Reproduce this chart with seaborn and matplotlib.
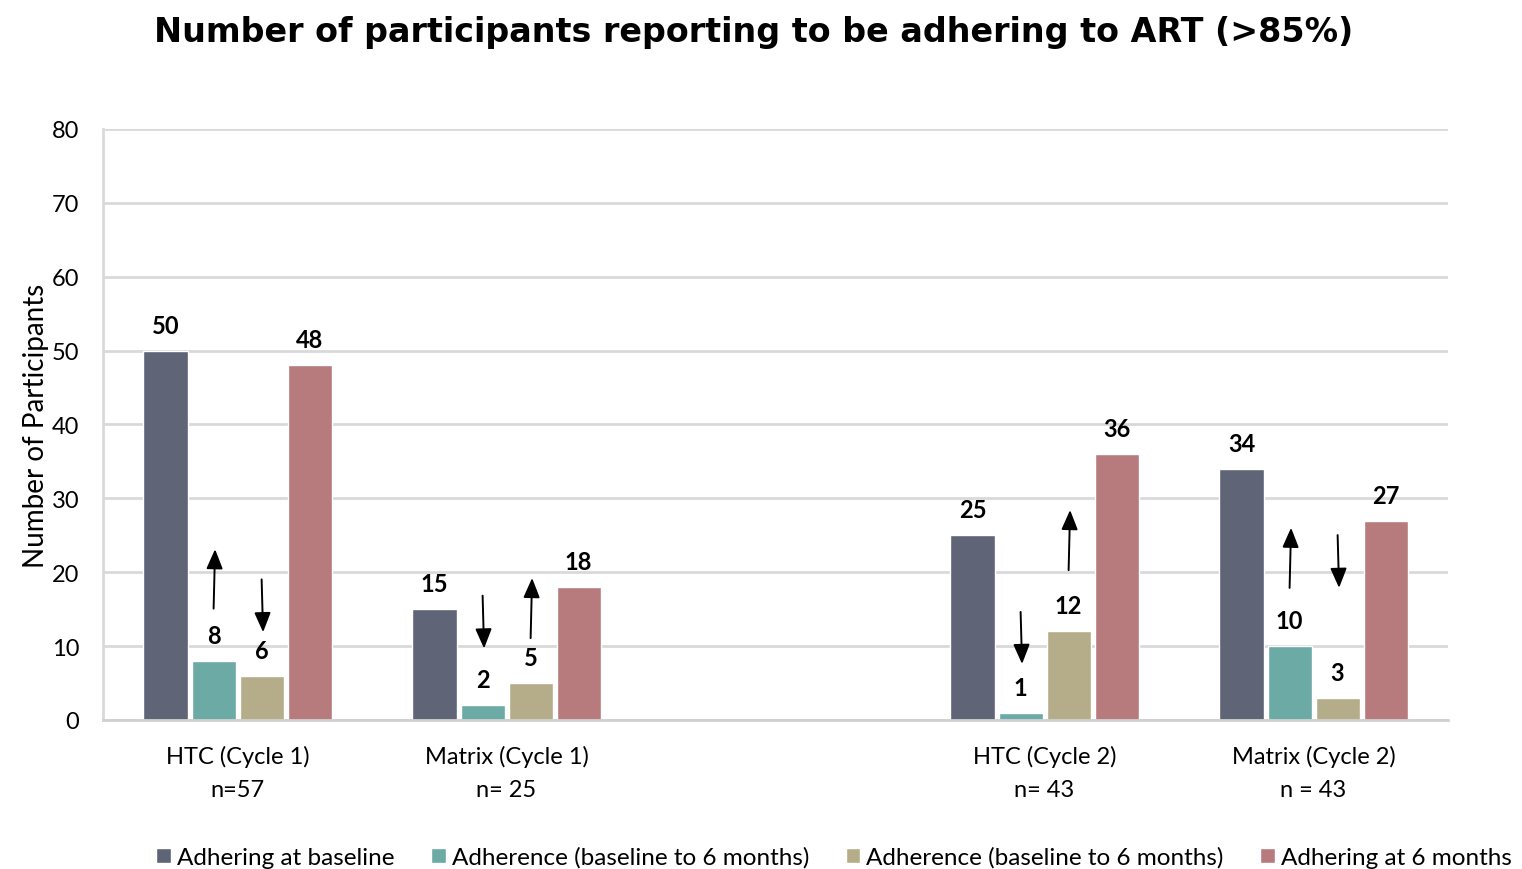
import pandas as pd
import matplotlib.pyplot as plt
import seaborn as sns
from matplotlib.patches import Patch

# categories (an empty slot sits between cycle 1 and cycle 2)
grupos = ["HTC (Cycle 1)\nn=57", "Matrix (Cycle 1)\nn= 25",
          "HTC (Cycle 2)\nn= 43", "Matrix (Cycle 2)\nn = 43"]
orden = grupos[:2] + [" "] + grupos[2:]

series = ["base", "adh_a", "adh_b", "six"]
etiquetas = ["Adhering at baseline", "Adherence (baseline to 6 months)",
             "Adherence (baseline to 6 months)", "Adhering at 6 months"]
colores = ["#5f6476", "#6baaa5", "#b5ad8a", "#b77b7e"]

baseline = [50, 15, 25, 34]
adh_a = [8, 2, 1, 10]
adh_b = [6, 5, 12, 3]
six_months = [48, 18, 36, 27]

# arrows drawn over the two middle bars of every group: (series, y start, y end)
flechas = [
    [("adh_a", 14.7, 23.5), ("adh_b", 19.4, 11.5)],
    [("adh_a", 17.2, 9.3), ("adh_b", 10.7, 19.6)],
    [("adh_a", 15.0, 7.2), ("adh_b", 19.9, 28.8)],
    [("adh_a", 17.5, 26.4), ("adh_b", 25.4, 17.5)],
]

filas = []
for serie, vals in zip(series, [baseline, adh_a, adh_b, six_months]):
    for g, v in zip(grupos, vals):
        filas.append({"grupo": g, "serie": serie, "valor": v})
df = pd.DataFrame(filas)

sns.set_style("white")
plt.rcParams["font.family"] = ["Lato", "DejaVu Sans"]
plt.rcParams["text.color"] = "black"
plt.rcParams["xtick.color"] = "black"
plt.rcParams["ytick.color"] = "black"
plt.rcParams["axes.labelcolor"] = "black"

fig = plt.figure(figsize=(15.22, 8.70), dpi=100)
ax = fig.add_axes([0.0677, 0.1713, 0.8837, 0.6793])

sns.barplot(data=df, x="grupo", y="valor", hue="serie", order=orden,
            hue_order=series, palette=colores, width=0.714, gap=0.083,
            saturation=1, ax=ax, legend=False)

ax.set_ylim(0, 80)
ax.set_yticks(range(0, 81, 10))
ax.set_xlim(-0.5, 4.5)
ax.grid(axis="y", color="#d9d9d9", linewidth=2)
ax.set_axisbelow(True)
for s in ["top", "right"]:
    ax.spines[s].set_visible(False)
ax.spines["left"].set_color("#d9d9d9")
ax.spines["left"].set_linewidth(2)
ax.spines["bottom"].set_color("#d0d0d0")
ax.spines["bottom"].set_linewidth(2)

ax.tick_params(axis="y", length=0, pad=17, labelsize=17)
ax.tick_params(axis="x", length=0, pad=18, labelsize=17)
for t in ax.get_xticklabels():
    t.set_linespacing(1.7)
ax.set_xlabel("")
ax.set_ylabel("Number of Participants", fontsize=20, labelpad=2)

for cont in ax.containers:
    ax.bar_label(cont, padding=10, fontsize=17, fontweight="bold")

# arrows
for i, grupo_flechas in enumerate(flechas):
    for serie, y0, y1 in grupo_flechas:
        barra = ax.containers[series.index(serie)].patches[i]
        xc = barra.get_x() + barra.get_width() / 2
        ax.annotate("", xy=(xc + 0.006, y1), xytext=(xc, y0),
                    arrowprops=dict(arrowstyle="-|>,head_length=1.2,head_width=0.5",
                                    color="black", lw=1.4))

fig.suptitle("Number of participants reporting to be adhering to ART (>85%)",
             x=0.495, y=0.982, fontsize=24, fontweight="bold",
             family="DejaVu Sans")

manijas = [Patch(facecolor=c) for c in colores]
fig.legend(manijas, etiquetas, loc="lower center", ncol=4,
           bbox_to_anchor=(0.548, -0.024), frameon=False, fontsize=17.5,
           handlelength=0.6, handleheight=0.6, handletextpad=0.25,
           columnspacing=1.5)

fig.savefig("out.png", dpi=100)
